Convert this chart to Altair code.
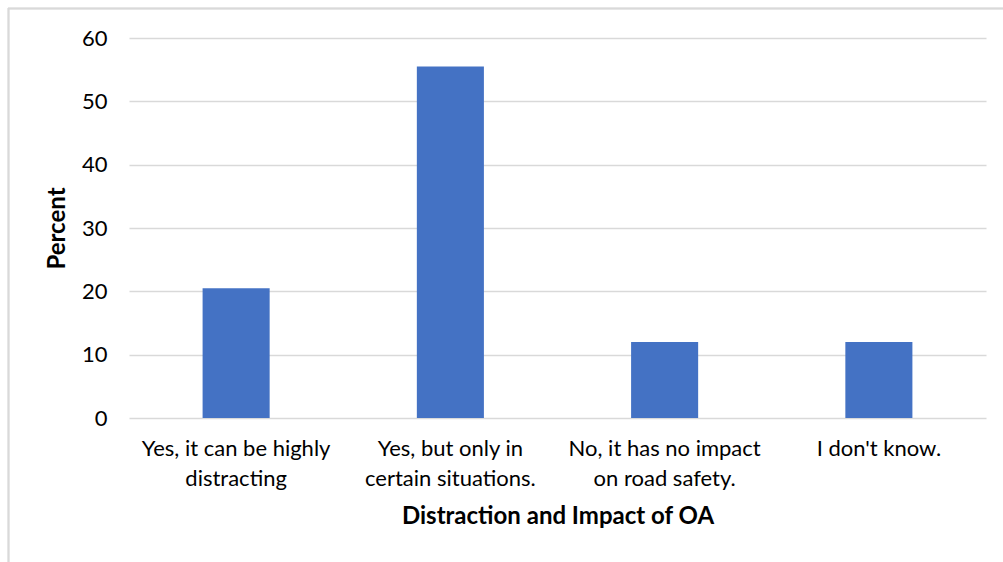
import altair as alt
import pandas as pd

# Survey responses: is OA distracting / does it affect road safety?
categories = [
    "Yes, it can be highly distracting",
    "Yes, but only in certain situations.",
    "No, it has no impact on road safety.",
    "I don't know.",
]
label_lines = [
    ["Yes, it can be highly", "distracting"],
    ["Yes, but only in", "certain situations."],
    ["No, it has no impact", "on road safety."],
    ["I don't know."],
]
percent = [20.5, 55.5, 12.0, 12.0]
y_ticks = [0, 10, 20, 30, 40, 50, 60]

df = pd.DataFrame({"response": categories, "percent": percent})

FONT = "Lato"
W, H = 857, 380

# map each category to its wrapped axis label
pairs = ", ".join(
    "'" + c.replace("'", "\\'") + "': [" + ", ".join("'" + s.replace("'", "\\'") + "'" for s in lines) + "]"
    for c, lines in zip(categories, label_lines)
)
label_expr = "{" + pairs + "}[datum.label]"

bars = alt.Chart(df).mark_bar(color="#4472C4").encode(
    x=alt.X(
        "response:N",
        sort=categories,
        scale=alt.Scale(paddingInner=0.687, paddingOuter=0.3435),
        axis=alt.Axis(
            title="Distraction and Impact of OA",
            labelAngle=0,
            labelExpr=label_expr,
            labelFont=FONT,
            labelFontSize=22,
            labelColor="#000000",
            labelLineHeight=30,
            labelPadding=20,
            labelBaseline="top",
            labelLimit=400,
            ticks=False,
            domain=False,
            titleFont=FONT,
            titleFontSize=24,
            titleFontWeight="bold",
            titleColor="#000000",
            titlePadding=15,
        ),
    ),
    y=alt.Y(
        "percent:Q",
        scale=alt.Scale(domain=[0, 60], nice=False),
        axis=alt.Axis(
            title="Percent",
            values=y_ticks,
            labelFont=FONT,
            labelFontSize=22,
            labelColor="#000000",
            labelPadding=22,
            ticks=False,
            domain=False,
            grid=True,
            gridColor="#d9d9d9",
            gridWidth=1.3,
            titleFont=FONT,
            titleFontSize=24,
            titleFontWeight="bold",
            titleColor="#000000",
            titlePadding=12,
        ),
    ),
)

# chart frame: top and left edges of the surrounding box
frame_top = alt.Chart(df).mark_rule(color="#d9d9d9", strokeWidth=1.5).encode(
    x=alt.value(-121), x2=alt.value(W + 30), y=alt.value(-29.5)
)
frame_left = alt.Chart(df).mark_rule(color="#d9d9d9", strokeWidth=1.5).encode(
    x=alt.value(-120.5), y=alt.value(-30), y2=alt.value(H + 160)
)

chart = (
    alt.layer(bars, frame_top, frame_left)
    .properties(width=W, height=H, padding={"left": 129, "top": 38, "right": 17, "bottom": 144})
    .configure(autosize=alt.AutoSizeParams(type="none"))
    .configure_view(stroke=None)
    .configure_axisY(gridDash=[])
)

chart.save("out.html", embed_options={"renderer": "svg", "actions": False})
